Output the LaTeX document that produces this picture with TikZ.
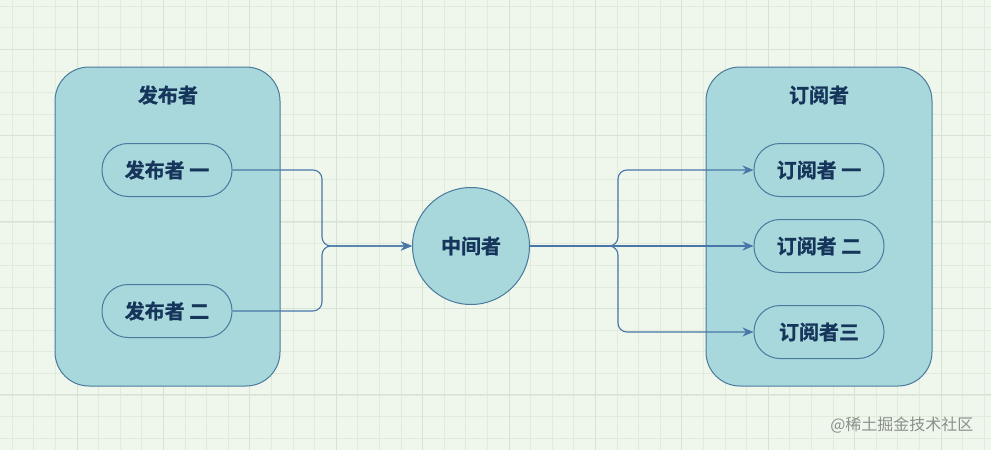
\documentclass[tikz,border=0pt]{standalone}
\usepackage{fontspec}
\setmainfont{Noto Sans CJK SC}
\newfontfamily\cjkb[FakeBold=1.2]{Noto Sans CJK SC Bold}
\usetikzlibrary{arrows.meta}
\definecolor{bgc}{HTML}{EFF7EC}
\definecolor{gridc}{HTML}{E0EBDC}
\definecolor{gridm}{HTML}{D6E2D3}
\definecolor{boxfill}{HTML}{A8D8DB}
\definecolor{boxline}{HTML}{4A7A9E}
\definecolor{txtc}{HTML}{16355A}
\definecolor{arrc}{HTML}{4876A8}
\definecolor{wmc}{HTML}{8A8F8C}
\tikzset{
  container/.style={draw=boxline, fill=boxfill, line width=1pt, rounded corners=34pt},
  pill/.style={draw=boxline, fill=boxfill, line width=1pt, rounded corners=26pt,
    minimum width=130pt, minimum height=53pt, inner sep=0pt, font=\cjkb\fontsize{20}{23}\selectfont, text=txtc},
  hub/.style={draw=boxline, fill=boxfill, line width=1pt, circle, minimum size=117pt,
    inner sep=0pt, font=\cjkb\fontsize{20}{23}\selectfont, text=txtc},
  title/.style={font=\cjkb\fontsize{20}{23}\selectfont, text=txtc},
  conn/.style={draw=arrc, line width=1.1pt, rounded corners=9pt},
  arr/.style={conn, -{Stealth[length=11pt,width=9pt]}},
}
\begin{document}
\begin{tikzpicture}[x=1pt,y=-1pt]
\useasboundingbox (0,0) rectangle (991,450);
\fill[bgc] (0,0) rectangle (991,450);
\foreach \i in {0,...,46} {
  \draw[gridc, line width=0.6pt] ({12+21.6*\i},0) -- ({12+21.6*\i},450);
}
\foreach \j in {0,...,21} {
  \draw[gridc, line width=0.6pt] (0,{6+21.6*\j}) -- (991,{6+21.6*\j});
}
\foreach \i in {0,...,11} {
  \draw[gridm, line width=0.7pt] ({77+86.4*\i},0) -- ({77+86.4*\i},450);
}
\foreach \j in {0,...,5} {
  \draw[gridm, line width=0.7pt] (0,{49+86.4*\j}) -- (991,{49+86.4*\j});
}
% containers
\draw[container] (55,67) rectangle (280,386);
\draw[container] (706,67) rectangle (932,386);
\node[title] (ptitle) at (168,95) {发布者};
\node[title] (stitle) at (819,95) {订阅者};
% nodes
\node[pill] (p1) at (167,170) {发布者 一};
\node[pill] (p2) at (167,311) {发布者 二};
\node[hub] (m) at (471,246) {中间者};
\node[pill] (s1) at (819,170) {订阅者 一};
\node[pill] (s2) at (819,246) {订阅者 二};
\node[pill] (s3) at (819,332) {订阅者三};
% connectors
\coordinate (jl) at (322,246);
\coordinate (jr) at (618,246);
\draw[arr] (p1.east) -| (jl) -- (m.west);
\draw[arr] (p2.east) -| (jl) -- (m.west);
\draw[arr] (m.east) -- (jr) |- (s1.west);
\draw[arr] (m.east) -- (s2.west);
\draw[arr] (m.east) -- (jr) |- (s3.west);
% watermark
\node[text=wmc, font=\fontsize{16}{19}\selectfont, anchor=east] (wm) at (977,425) {@稀土掘金技术社区};
\end{tikzpicture}
\end{document}
